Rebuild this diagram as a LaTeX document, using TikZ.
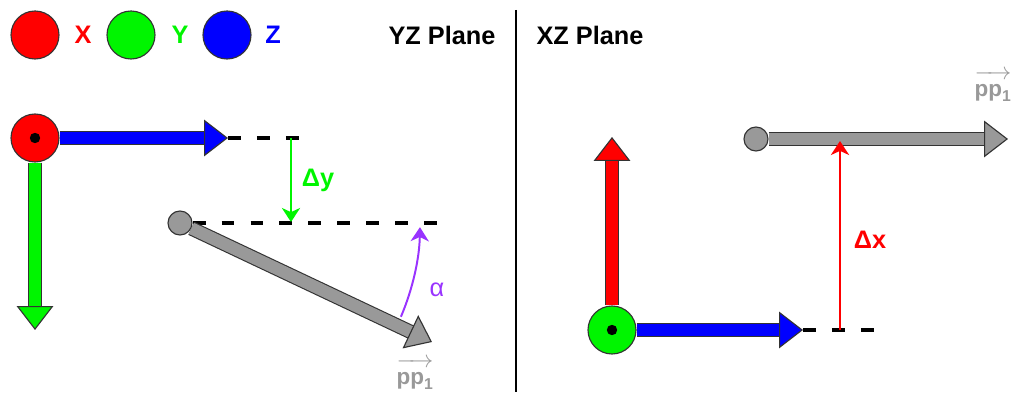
\documentclass[tikz,border=0pt]{standalone}
\usepackage{amsmath}
\usepackage{fontspec}
\setmainfont{Liberation Sans}
\usepackage{xcolor}
\usepackage{tikz}
\usetikzlibrary{arrows.meta, positioning, calc}
\definecolor{axisred}{RGB}{255, 0, 0}
\definecolor{axisgreen}{RGB}{0, 245, 0}
\definecolor{axisblue}{RGB}{0, 0, 255}
\definecolor{vecgray}{RGB}{153, 153, 153}
\definecolor{edgegray}{RGB}{51, 51, 51}
\definecolor{anglepurple}{RGB}{153, 51, 255}

\begin{document}
\begin{tikzpicture}[
    x=0.025cm, y=-0.025cm,
    axisball/.style={circle, draw=edgegray, line width=0.8pt, fill=#1, minimum size=1.2cm, inner sep=0pt},
    centerdot/.style={circle, fill=black, minimum size=0.26cm, inner sep=0pt},
    basept/.style={circle, draw=edgegray, line width=0.8pt, fill=vecgray, minimum size=0.6cm, inner sep=0pt},
    fat/.style={draw=#1, line width=8.6pt,
        preaction={-, draw=edgegray, line width=10.2pt, shorten >=14pt},
        -{Triangle[length=17pt, width=26pt, color=edgegray, fill=#1, line width'=0.8pt]}},
    guide/.style={line width=2.8pt, dash pattern=on 9.2pt off 11.4pt},
    deltaarrow/.style={line width=1.4pt, -{Stealth[length=10pt, width=13pt, inset=3pt]}},
    lbl/.style={font=\fontsize{18}{21}\selectfont\bfseries},
    veclbl/.style={text=vecgray, font=\fontsize{16}{18}\selectfont}
]
\useasboundingbox (0,0) rectangle (1015,399);

% legend
\node[axisball=axisred] (LX) at (35,35) {};
\node[lbl, text=axisred] (LXt) at (83,35) {X};
\node[axisball=axisgreen] (LY) at (131,35) {};
\node[lbl, text=axisgreen] (LYt) at (180,35) {Y};
\node[axisball=axisblue] (LZ) at (227,35) {};
\node[lbl, text=axisblue] (LZt) at (273,35) {Z};
\node[lbl] (YZt) at (442,35) {YZ Plane};
\node[lbl] (XZt) at (590,35) {XZ Plane};
\draw[line width=1.6pt] (516,10) -- (516,392);

% YZ plane
\node[axisball=axisred] (YZo) at (35,138) {};
\node[centerdot] at (YZo) {};
\node[basept] (YZp) at (180,223) {};
\coordinate (YZz) at (228,138);
\coordinate (YZy) at (35,330);
\coordinate (YZpp) at (432,342);
\coordinate (YZzend) at (300,138);
\coordinate (YZpend) at (437,223);
\coordinate (DYtop) at (291,138);
\coordinate (DYbot) at (291,222);
\coordinate (Astart) at ($(YZp)+(23:240)$);

\draw[fat=axisblue] (YZo) -- (YZz);
\draw[fat=axisgreen] (YZo) -- (YZy);
\draw[guide] (YZz) -- (YZzend);
\draw[guide] (YZp) -- (YZpend);
\draw[fat=vecgray] (YZp) -- (YZpp);
\draw[deltaarrow, axisgreen] (DYtop) -- (DYbot);
\draw[deltaarrow, anglepurple] (Astart) arc[start angle=23, end angle=1, radius=240];

\node[lbl, text=axisgreen] (DYt) at (318,180) {Δy};
\node[text=anglepurple, font=\fontsize{18}{21}\selectfont] (At) at (437,290) {α};
\node[veclbl] (YZppt) at (415,374) {$\overrightarrow{\vphantom{A}\textbf{pp}_{\textbf{1}}}$};

% XZ plane
\node[axisball=axisgreen] (XZo) at (612,330) {};
\node[centerdot] at (XZo) {};
\node[basept] (XZp) at (756,139) {};
\coordinate (XZx) at (612,137);
\coordinate (XZz) at (803,330);
\coordinate (XZzend) at (877,330);
\coordinate (XZpp) at (1008,139);
\coordinate (DXbot) at (840,330);
\coordinate (DXtop) at (840,141);

\draw[fat=axisred] (XZo) -- (XZx);
\draw[fat=axisblue] (XZo) -- (XZz);
\draw[guide] (XZz) -- (XZzend);
\draw[fat=vecgray] (XZp) -- (XZpp);
\draw[deltaarrow, axisred] (DXbot) -- (DXtop);

\node[lbl, text=axisred] (DXt) at (870,240) {Δx};
\node[veclbl] (XZppt) at (993,86) {$\overrightarrow{\vphantom{A}\textbf{pp}_{\textbf{1}}}$};
\end{tikzpicture}
\end{document}
